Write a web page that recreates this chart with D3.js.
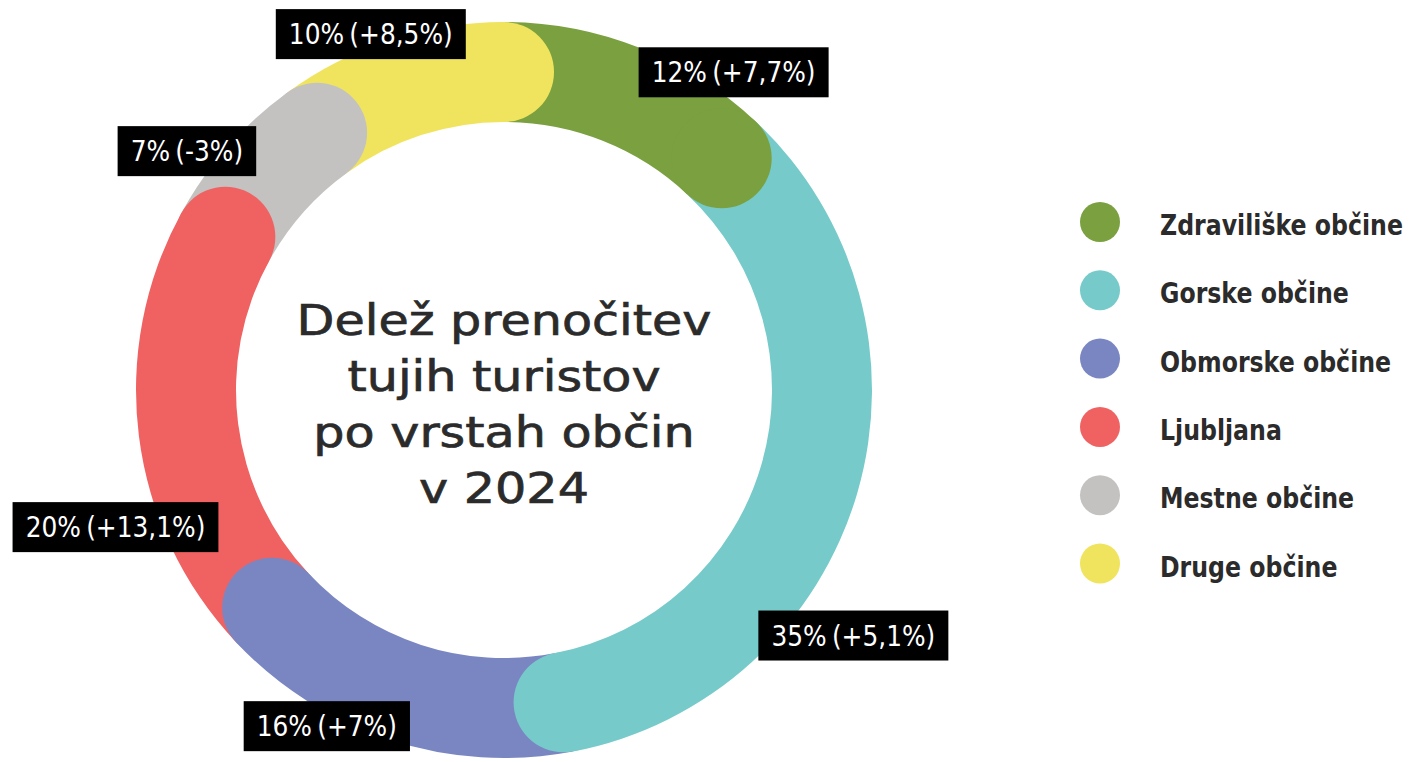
<!DOCTYPE html>
<html>
<head>
<meta charset="utf-8">
<script src="https://cdn.jsdelivr.net/npm/d3@7"></script>
<style>
  body { margin: 0; background: #fff; }
  svg { display: block; }
</style>
</head>
<body>
<div id="chart"></div>
<script>
// data
var categories = ['Zdraviliške občine', 'Gorske občine', 'Obmorske občine', 'Ljubljana', 'Mestne občine', 'Druge občine'];
var shares = [12, 35, 16, 20, 7, 10];
var changes = ['+7,7%', '+5,1%', '+7%', '+13,1%', '-3%', '+8,5%'];
var colors = ['#7aa03f', '#76cbca', '#7a86c2', '#f06262', '#c3c2c1', '#f0e45e'];
var titleLines = ['Delež prenočitev', 'tujih turistov', 'po vrstah občin', 'v 2024'];

// where each label box sits: fraction along its slice, distance from centre
var labelPos = [[0.83, 392], [0.65, 427], [0.67, 380], [0.33, 412], [0.325, 397], [0.43, 380]];

var width = 1409, height = 762;
var cx = 504, cy = 390,
    outerR = 368, innerR = 268,
    midR = (outerR + innerR) / 2,
    capR = (outerR - innerR) / 2;

var svg = d3.select('#chart').append('svg')
    .attr('width', width)
    .attr('height', height);

var g = svg.append('g').attr('transform', 'translate(' + cx + ',' + cy + ')');

var pie = d3.pie().sort(null).value(function(d) { return d; });
var slices = pie(shares);

var arc = d3.arc().innerRadius(innerR).outerRadius(outerR);

g.selectAll('path.slice')
    .data(slices)
  .enter().append('path')
    .attr('class', 'slice')
    .attr('d', arc)
    .attr('fill', function(d, i) { return colors[i]; });

// rounded end of every slice, drawn over the start of the next one
g.selectAll('circle.cap')
    .data(slices)
  .enter().append('circle')
    .attr('class', 'cap')
    .attr('cx', function(d) { return midR * Math.sin(d.endAngle); })
    .attr('cy', function(d) { return -midR * Math.cos(d.endAngle); })
    .attr('r', capR)
    .attr('fill', function(d, i) { return colors[i]; });

// centre title (the original face is wider, so stretch it a bit)
var title = g.append('text')
    .attr('text-anchor', 'middle')
    .attr('font-family', 'DejaVu Sans')
    .attr('font-size', 42)
    .attr('fill', '#2b2b2b')
    .attr('stroke', '#2b2b2b')
    .attr('stroke-width', 0.7);

title.selectAll('tspan')
    .data(titleLines)
  .enter().append('tspan')
    .attr('x', 0)
    .attr('y', function(d, i) { return -55 + i * 56; })
    .text(function(d) { return d; });

var firstLine = title.select('tspan').node().getComputedTextLength();
title.attr('transform', 'scale(' + (415 / firstLine) + ',1)');

// value labels
var labels = g.selectAll('g.label')
    .data(slices)
  .enter().append('g')
    .attr('class', 'label')
    .attr('transform', function(d, i) {
        var a = d.startAngle + labelPos[i][0] * (d.endAngle - d.startAngle);
        var r = labelPos[i][1];
        return 'translate(' + (r * Math.sin(a)) + ',' + (-r * Math.cos(a)) + ')';
    });

var rects = labels.append('rect').attr('fill', '#000');

var texts = labels.append('text')
    .attr('text-anchor', 'middle')
    .attr('dy', '0.36em')
    .attr('font-family', 'DejaVu Sans')
    .attr('font-size', 28)
    .attr('word-spacing', -3)
    .attr('fill', '#fff')
    .text(function(d, i) { return shares[i] + '% (' + changes[i] + ')'; });

// "10% (+8,5%)" is about 164px wide in the original
var labelK = 164 / texts.filter(function(d, i) { return i === 5; }).node().getComputedTextLength();

texts.each(function() {
    var w = this.getComputedTextLength() * labelK;
    d3.select(this).attr('transform', 'scale(' + labelK + ',1)');
    d3.select(this.parentNode).select('rect')
        .attr('x', -w / 2 - 13)
        .attr('y', -25)
        .attr('width', w + 26)
        .attr('height', 50);
});

// legend
var legend = svg.append('g').attr('transform', 'translate(1100,222)');

var item = legend.selectAll('g')
    .data(categories)
  .enter().append('g')
    .attr('transform', function(d, i) { return 'translate(0,' + (i * 68.3) + ')'; });

item.append('circle')
    .attr('r', 20)
    .attr('fill', function(d, i) { return colors[i]; });

var legendText = item.append('text')
    .attr('font-family', 'DejaVu Sans')
    .attr('font-weight', 'bold')
    .attr('font-size', 28)
    .attr('fill', '#2b2b2b')
    .text(function(d) { return d; });

// condensed look: squeeze to the original width of the first entry (243px)
var legendK = 243 / legendText.node().getComputedTextLength();
legendText.attr('transform', 'translate(60,13) scale(' + legendK + ',1)');
</script>
</body>
</html>
